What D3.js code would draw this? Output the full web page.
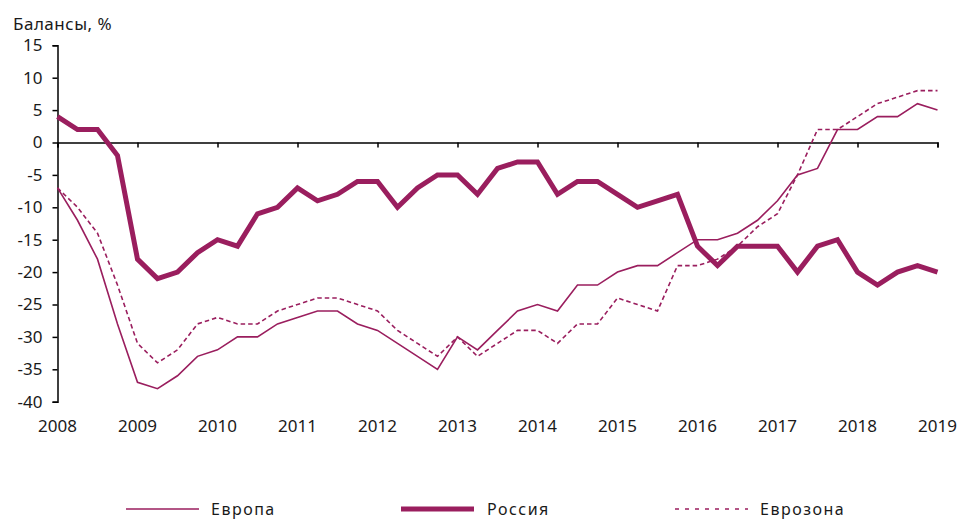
<!DOCTYPE html>
<html>
<head>
<meta charset="utf-8">
<script src="https://cdn.jsdelivr.net/npm/d3@7"></script>
<style>
  body { margin: 0; background: #fff; }
  svg text { font-family: "Noto Sans", "Open Sans", sans-serif; fill: #1a1a1a; }
</style>
</head>
<body>
<svg id="chart" width="959" height="519"></svg>
<script>
// quarterly balances, 2008Q1 .. 2019Q1
var quarters = d3.range(0, 45).map(i => 2008 + i / 4);

var europe = [-7, -12, -18, -28, -37, -38, -36, -33, -32, -30, -30, -28, -27, -26, -26, -28,
  -29, -31, -33, -35, -30, -32, -29, -26, -25, -26, -22, -22, -20, -19, -19, -17,
  -15, -15, -14, -12, -9, -5, -4, 2, 2, 4, 4, 6, 5];

var russia = [4, 2, 2, -2, -18, -21, -20, -17, -15, -16, -11, -10, -7, -9, -8, -6,
  -6, -10, -7, -5, -5, -8, -4, -3, -3, -8, -6, -6, -8, -10, -9, -8,
  -16, -19, -16, -16, -16, -20, -16, -15, -20, -22, -20, -19, -20];

var eurozone = [-7, -10, -14, -22, -31, -34, -32, -28, -27, -28, -28, -26, -25, -24, -24, -25,
  -26, -29, -31, -33, -30, -33, -31, -29, -29, -31, -28, -28, -24, -25, -26, -19,
  -19, -18, -16, -13, -11, -5, 2, 2, 4, 6, 7, 8, 8];

var yTicks = [15, 10, 5, 0, -5, -10, -15, -20, -25, -30, -35, -40];
var yearTicks = d3.range(2008, 2020);

var seriesNames = ["Европа", "Россия", "Еврозона"];
var color = "#9a1e5e";

const svg = d3.select("#chart");

const x = d3.scaleLinear().domain([2008, 2019]).range([57.5, 937.5]);
const y = d3.scaleLinear().domain([-40, 15]).range([401.7, 45.3]);

// y axis
const yAxis = svg.append("g")
  .attr("transform", "translate(57.5,0)")
  .call(d3.axisLeft(y).tickValues(yTicks).tickSize(5).tickPadding(10)
    .tickFormat(d => d < 0 ? "-" + Math.abs(d) : d));
yAxis.select(".domain").attr("stroke", "#000").attr("stroke-width", 1.5);
yAxis.selectAll(".tick line").attr("stroke", "#000").attr("stroke-width", 1.5);
yAxis.selectAll("text").attr("font-size", "17px").style("font-family", "'Noto Sans', sans-serif").attr("fill", "#1a1a1a");

// x axis sits on zero, year labels go at the bottom
const xAxis = svg.append("g")
  .attr("transform", `translate(0,${y(0)})`)
  .call(d3.axisBottom(x).tickValues(yearTicks).tickSize(5).tickFormat(""));
xAxis.select(".domain").attr("stroke", "#000").attr("stroke-width", 1.5);
xAxis.selectAll(".tick line").attr("stroke", "#000").attr("stroke-width", 1.5);

svg.append("g").selectAll("text").data(yearTicks).enter().append("text")
  .attr("x", d => x(d))
  .attr("y", 432)
  .attr("text-anchor", "middle")
  .attr("font-size", "17px")
  .text(d => d);

svg.append("text")
  .attr("x", 13)
  .attr("y", 30)
  .attr("font-size", "17px")
  .attr("letter-spacing", "0.5px")
  .text("Балансы, %");

const line = d3.line().x((d, i) => x(quarters[i])).y(d => y(d));

const styles = [
  { data: europe, width: 1.6, dash: null, legendDash: null },
  { data: russia, width: 5, dash: null, legendDash: null },
  { data: eurozone, width: 1.6, dash: "4.5,3", legendDash: "4,6" }
];

styles.forEach(s => {
  svg.append("path")
    .datum(s.data)
    .attr("d", line)
    .attr("fill", "none")
    .attr("stroke", color)
    .attr("stroke-width", s.width)
    .attr("stroke-linejoin", "miter")
    .attr("stroke-dasharray", s.dash);
});

// legend
const legendX = [126, 401, 675];
const legend = svg.append("g").selectAll("g").data(seriesNames).enter().append("g")
  .attr("transform", (d, i) => `translate(${legendX[i]},509)`);
legend.append("line")
  .attr("x1", 0).attr("x2", 73).attr("y1", 0).attr("y2", 0)
  .attr("stroke", color)
  .attr("stroke-width", (d, i) => styles[i].width)
  .attr("stroke-dasharray", (d, i) => styles[i].legendDash);
legend.append("text")
  .attr("x", (d, i) => i == 1 ? 86 : 85)
  .attr("y", 6)
  .attr("font-size", "16px")
  .attr("letter-spacing", "1.5px")
  .text(d => d);
</script>
</body>
</html>
